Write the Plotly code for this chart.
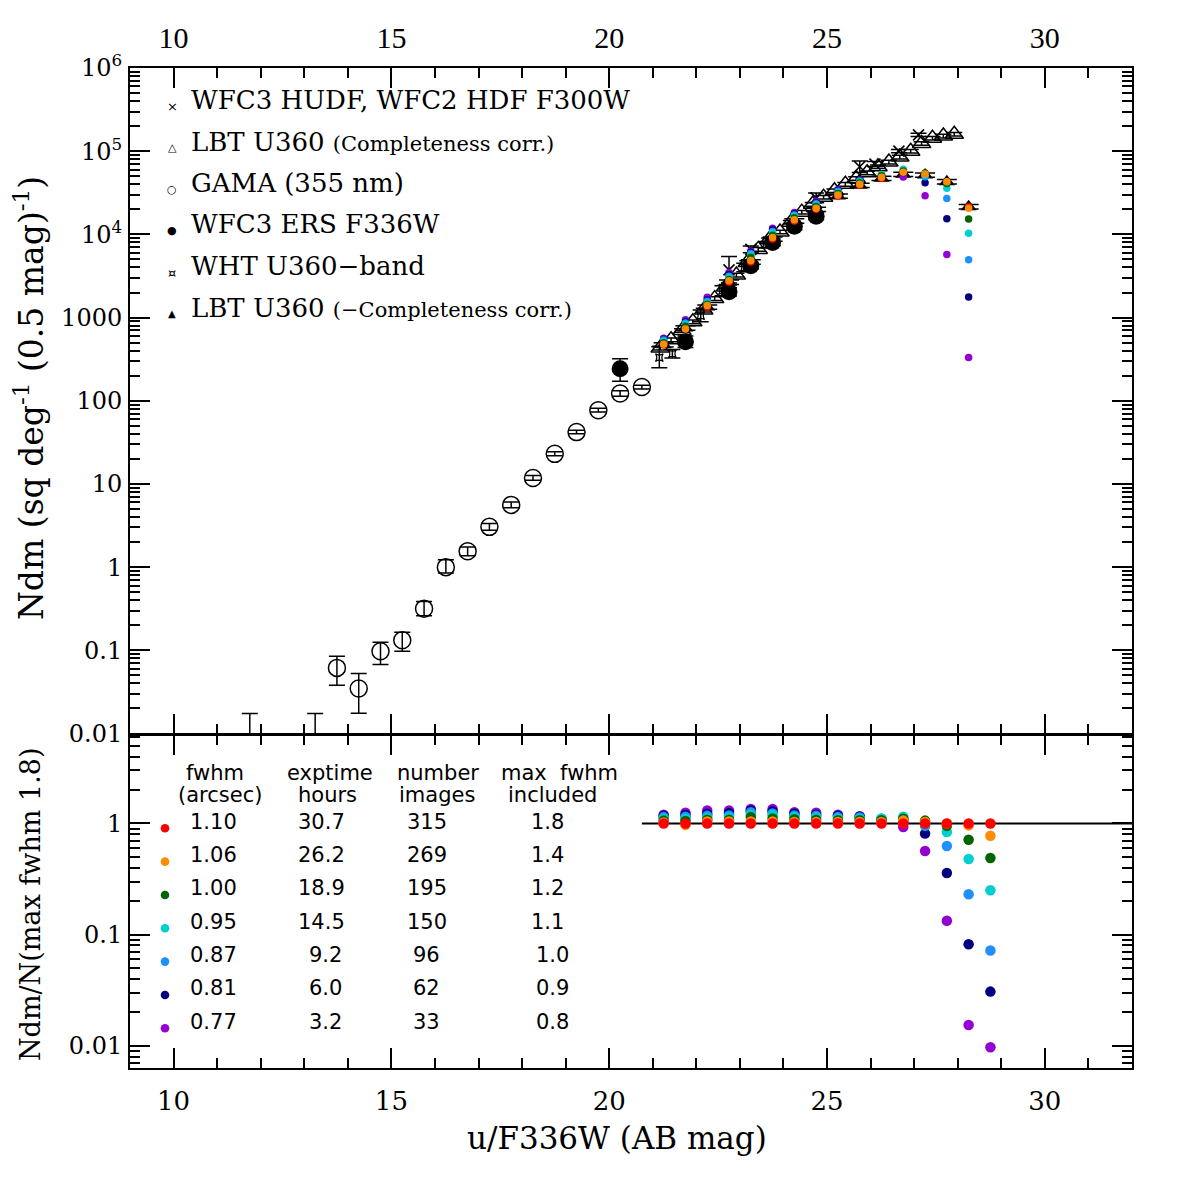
import plotly.graph_objects as go

# ---------------- data ----------------
# GAMA (355 nm) open circles
gama_mag = [13.75, 14.25, 14.75, 15.25, 15.75, 16.25, 16.75, 17.25, 17.75, 18.25, 18.75, 19.25, 19.75, 20.25, 20.75]
gama_n = [0.0615, 0.0347, 0.0975, 0.132, 0.317, 1.0, 1.55, 3.05, 5.6, 11.8, 23.0, 42.0, 77.0, 122.0, 146.0]
gama_err_hi = [0.0233, 0.0179, 0.0273, 0.033, 0.068, 0.23, 0.2, 0.3, 0.45, 0.8, 1.3, 2.2, 4.0, 10.0, 8.0]
gama_err_lo = [0.0235, 0.0172, 0.0301, 0.0345, 0.056, 0.15, 0.18, 0.28, 0.42, 0.75, 1.2, 2.0, 3.8, 9.0, 7.5]
# GAMA upper limits
gama_ul_mag = [11.75, 13.25]
gama_ul_n = [0.0174, 0.0174]
gama_ul_up = [0.0, 0.0]
gama_ul_down = [0.0166, 0.0166]

# WFC3 ERS F336W filled circles
ers_mag = [20.25, 21.75, 22.75, 23.25, 23.75, 24.25, 24.75]
ers_n = [242, 512, 2040, 4200, 8000, 12500, 16500]
ers_err_hi = [77, 88, 250, 400, 780, 1200, 1600]
ers_err_lo = [71, 75, 220, 370, 710, 1100, 1450]

# WFC3 HUDF / WFC2 HDF F300W crosses
hudf_mag = [22.75, 23.25, 24.75, 25.75, 26.1, 26.65, 27.1]
hudf_n = [3750, 6600, 27500, 65000, 70000, 100000, 157000]
hudf_err_hi = [1670, 640, 4000, 11400, 5000, 4700, 7400]
hudf_err_lo = [1155, 580, 3500, 9700, 4700, 4500, 7100]

# WHT U360-band
wht_mag = [21.15, 21.45, 22.1, 22.6, 23.1, 23.6]
wht_n = [330, 367, 1050, 2100, 4000, 7500]
wht_err_hi = [115, 45, 184, 310, 490, 720]
wht_err_lo = [80, 40, 157, 270, 435, 660]

# LBT U360 (completeness corrected) open triangles
lbt_corr_mag = [21.17, 21.42, 21.67, 21.92, 22.17, 22.42, 22.67, 22.92, 23.17, 23.42,
                23.67, 23.92, 24.17, 24.42, 24.67, 24.92, 25.17, 25.42, 25.67, 25.92,
                26.17, 26.42, 26.67, 26.92, 27.17, 27.42, 27.67, 27.92]
lbt_corr_n = [430, 540, 700, 890, 1230, 1690, 2330, 3240, 4600, 6600,
              8600, 10700, 14000, 18500, 23000, 28000, 33500, 40000, 47000, 55000,
              65000, 74000, 85000, 100000, 124000, 143000, 152000, 160000]

# LBT U360 (not completeness corrected) filled triangles
lbt_raw_mag = [21.25, 21.75, 22.25, 22.75, 23.25, 23.75, 24.25, 24.75, 25.25, 25.75, 26.25, 26.75, 27.25, 27.75, 28.25]
lbt_raw_n = [470, 750, 1340, 2660, 4660, 8800, 14500, 20000, 28900, 38900, 47200, 52700, 51700, 43000, 21500]
lbt_raw_err = [28, 45, 80, 160, 280, 530, 870, 1200, 1730, 2330, 2830, 3160, 3100, 2580, 1290]

# counts for the fwhm-selected subsets (upper panel)
sub_mag = [21.25, 21.75, 22.25, 22.75, 23.25, 23.75, 24.25, 24.75, 25.25, 25.75, 26.25, 26.75, 27.25, 27.75, 28.25]
n_fwhm_110 = [470, 750, 1340, 2660, 4660, 8800, 14500, 20000, 28900, 38900, 47200, 52700, 51700, 43000, 21500]
n_fwhm_106 = [479, 728, 1394, 2766, 4846, 9152, 14940, 20600, 29770, 40070, 48620, 55860, 53250, 43000, 20640]
n_fwhm_100 = [498, 788, 1447, 2873, 5312, 9768, 15810, 21600, 30920, 41620, 50500, 57970, 54800, 40850, 15350]
n_fwhm_095 = [517, 825, 1501, 3006, 5592, 10470, 16530, 22600, 32080, 42790, 52390, 60610, 51700, 35950, 10300]
n_fwhm_087 = [536, 863, 1568, 3139, 5872, 10820, 17110, 23400, 32950, 43960, 51920, 57970, 49120, 26920, 4967]
n_fwhm_081 = [550, 893, 1635, 3298, 6105, 11350, 17690, 24000, 33810, 44740, 51450, 55340, 41880, 15390, 1763]
n_fwhm_077 = [564, 938, 1755, 3485, 6290, 11880, 18270, 25000, 34680, 45120, 50980, 49010, 29210, 5720, 331]

# ratios to the max-fwhm-1.8 counts (lower panel)
ratio_mag = [21.25, 21.75, 22.25, 22.75, 23.25, 23.75, 24.25, 24.75, 25.25, 25.75, 26.25, 26.75, 27.25, 27.75, 28.25, 28.75]
r_fwhm_110 = [1, 1, 1, 1, 1, 1, 1, 1, 1, 1, 1, 1, 1, 1, 1, 1]
r_fwhm_106 = [1.02, 0.97, 1.04, 1.04, 1.04, 1.04, 1.03, 1.03, 1.03, 1.03, 1.03, 1.06, 1.03, 1.00, 0.96, 0.775]
r_fwhm_100 = [1.06, 1.05, 1.08, 1.08, 1.14, 1.11, 1.09, 1.08, 1.07, 1.07, 1.07, 1.10, 1.06, 0.95, 0.714, 0.489]
r_fwhm_095 = [1.10, 1.10, 1.12, 1.13, 1.20, 1.19, 1.14, 1.13, 1.11, 1.10, 1.11, 1.15, 1.00, 0.836, 0.479, 0.251]
r_fwhm_087 = [1.14, 1.15, 1.17, 1.18, 1.26, 1.23, 1.18, 1.17, 1.14, 1.13, 1.10, 1.10, 0.95, 0.626, 0.231, 0.072]
r_fwhm_081 = [1.17, 1.19, 1.22, 1.24, 1.31, 1.29, 1.22, 1.20, 1.17, 1.15, 1.09, 1.05, 0.81, 0.358, 0.082, 0.0307]
r_fwhm_077 = [1.20, 1.25, 1.31, 1.31, 1.35, 1.35, 1.26, 1.25, 1.20, 1.16, 1.08, 0.93, 0.565, 0.133, 0.0154, 0.0097]
ref_line_mag = [20.75, 32.0]
ref_line_ratio = [1.0, 1.0]

# table
fwhm_labels = ["1.10", "1.06", "1.00", "0.95", "0.87", "0.81", "0.77"]
exptime_labels = ["30.7", "26.2", "18.9", "14.5", "9.2", "6.0", "3.2"]
nimages_labels = ["315", "269", "195", "150", "96", "62", "33"]
maxfwhm_labels = ["1.8", "1.4", "1.2", "1.1", "1.0", "0.9", "0.8"]
fwhm_colors = ["#ff0000", "#ff8c00", "#006400", "#00ced1", "#1e90ff", "#000080", "#9400d3"]

x_tickvals = [10, 15, 20, 25, 30]
y_up_tickvals = [0.01, 0.1, 1, 10, 100, 1000, 1e4, 1e5, 1e6]
y_up_ticktext = ["0.01", "0.1", "1", "10", "100", "1000", "10<sup>4</sup>", "10<sup>5</sup>", "10<sup>6</sup>"]
y_lo_tickvals = [0.01, 0.1, 1]
y_lo_ticktext = ["0.01", "0.1", "1"]

# ---------------- figure ----------------
L, R, T, B = 130, 64, 68, 128
W = H = 1196
PW, PH = W - L - R, H - T - B


def P(px, py):
    return (px - L) / PW, (H - B - py) / PH


fig = go.Figure()
BLK = "black"


def ebar(hi, lo, width=8, thick=1.5):
    return dict(type="data", symmetric=False, array=hi, arrayminus=lo,
                color=BLK, thickness=thick, width=width)


# upper limits
fig.add_trace(go.Scatter(x=gama_ul_mag, y=gama_ul_n, mode="markers",
                         marker=dict(size=1, color="rgba(0,0,0,0)"),
                         error_y=ebar(gama_ul_up, gama_ul_down, width=8),
                         showlegend=False, xaxis="x", yaxis="y"))
# GAMA
fig.add_trace(go.Scatter(x=gama_mag, y=gama_n, mode="markers",
                         marker=dict(symbol="circle-open", size=17, color=BLK, line=dict(width=1.5)),
                         error_y=ebar(gama_err_hi, gama_err_lo, width=8),
                         showlegend=False, xaxis="x", yaxis="y"))
# WHT
fig.add_trace(go.Scatter(x=wht_mag, y=wht_n, mode="markers",
                         marker=dict(symbol="star-square-open", size=7, color=BLK, line=dict(width=1.2)),
                         error_y=ebar(wht_err_hi, wht_err_lo, width=8),
                         showlegend=False, xaxis="x", yaxis="y"))
# HUDF crosses
fig.add_trace(go.Scatter(x=hudf_mag, y=hudf_n, mode="markers",
                         marker=dict(symbol="x-thin-open", size=11, color=BLK, line=dict(width=1.6)),
                         error_y=ebar(hudf_err_hi, hudf_err_lo, width=8),
                         showlegend=False, xaxis="x", yaxis="y"))
# ERS filled circles
fig.add_trace(go.Scatter(x=ers_mag, y=ers_n, mode="markers",
                         marker=dict(symbol="circle", size=17, color=BLK),
                         error_y=ebar(ers_err_hi, ers_err_lo, width=8),
                         showlegend=False, xaxis="x", yaxis="y"))
# LBT completeness corrected
fig.add_trace(go.Scatter(x=lbt_corr_mag, y=lbt_corr_n, mode="markers",
                         marker=dict(symbol="triangle-up-open", size=16, color=BLK, line=dict(width=1.5)),
                         error_y=dict(type="percent", value=5, color=BLK, thickness=1.5, width=8),
                         showlegend=False, xaxis="x", yaxis="y"))
# LBT not corrected
fig.add_trace(go.Scatter(x=lbt_raw_mag, y=lbt_raw_n, mode="markers",
                         marker=dict(symbol="triangle-up", size=14, color=BLK),
                         error_y=dict(type="data", array=lbt_raw_err, color=BLK, thickness=1.5, width=10),
                         showlegend=False, xaxis="x", yaxis="y"))

upper_sets = [n_fwhm_110, n_fwhm_077, n_fwhm_081, n_fwhm_087, n_fwhm_095, n_fwhm_100, n_fwhm_106]
upper_cols = [fwhm_colors[0], fwhm_colors[6], fwhm_colors[5], fwhm_colors[4], fwhm_colors[3], fwhm_colors[2], fwhm_colors[1]]
for vals, col in zip(upper_sets, upper_cols):
    fig.add_trace(go.Scatter(x=sub_mag, y=vals, mode="markers",
                             marker=dict(symbol="circle", size=7.5, color=col),
                             showlegend=False, xaxis="x", yaxis="y"))

# lower panel
fig.add_trace(go.Scatter(x=ref_line_mag, y=ref_line_ratio, mode="lines",
                         line=dict(color=BLK, width=2), showlegend=False, xaxis="x2", yaxis="y2"))
lower_sets = [r_fwhm_077, r_fwhm_081, r_fwhm_087, r_fwhm_095, r_fwhm_100, r_fwhm_106, r_fwhm_110]
lower_cols = [fwhm_colors[6], fwhm_colors[5], fwhm_colors[4], fwhm_colors[3], fwhm_colors[2], fwhm_colors[1], fwhm_colors[0]]
for vals, col in zip(lower_sets, lower_cols):
    fig.add_trace(go.Scatter(x=ratio_mag, y=vals, mode="markers",
                             marker=dict(symbol="circle", size=10.5, color=col),
                             showlegend=False, xaxis="x2", yaxis="y2"))

TICKF = dict(family="DejaVu Serif", size=24, color=BLK)
common = dict(showline=True, linecolor=BLK, linewidth=2, mirror="ticks", ticks="inside",
              tickcolor=BLK, tickwidth=1.5, showgrid=False, zeroline=False)
xminor = dict(dtick=1, tick0=10, ticks="inside", ticklen=10, tickcolor=BLK, tickwidth=1.5, showgrid=False)
yminor = dict(dtick="D1", ticks="inside", ticklen=10, tickcolor=BLK, tickwidth=1.5, showgrid=False)

fig.update_layout(
    width=W, height=H, margin=dict(l=L, r=R, t=T, b=B),
    paper_bgcolor="white", plot_bgcolor="white", showlegend=False,
    xaxis=dict(**common, domain=[0, 1], anchor="y", range=[9, 32], tickmode="array", tickvals=x_tickvals,
               ticklen=20, minor=xminor, showticklabels=False),
    xaxis3=dict(overlaying="x", side="top", anchor="y", range=[9, 32], tickmode="array",
                tickvals=x_tickvals, ticks="", showline=False, showgrid=False, zeroline=False,
                tickfont=dict(family="Liberation Serif", size=30, color=BLK), ticklabelstandoff=13),
    yaxis=dict(**common, domain=[0.3345, 1], anchor="x", type="log", range=[-2, 6], tickmode="array",
               tickvals=y_up_tickvals, ticktext=y_up_ticktext, ticklen=20, minor=yminor,
               tickfont=TICKF, ticklabelstandoff=1),
    xaxis2=dict(**common, domain=[0, 1], anchor="y2", range=[9, 32], tickmode="array", tickvals=x_tickvals,
                ticklen=20, minor=xminor, tickfont=dict(family="DejaVu Serif", size=26, color=BLK),
                ticklabelstandoff=9),
    yaxis2=dict(**common, domain=[0, 0.3335], anchor="x2", type="log", range=[-2.2, 0.8], tickmode="array",
                tickvals=y_lo_tickvals, ticktext=y_lo_ticktext, ticklen=20, minor=yminor,
                tickfont=TICKF, ticklabelstandoff=1),
)
# dummy trace so xaxis3 shows
fig.add_trace(go.Scatter(x=[None], y=[None], xaxis="x3", yaxis="y", showlegend=False))

ann = []
# axis titles
x_, y_ = P(617, 1138)
ann.append(dict(text="u/F336W (AB mag)", x=x_, y=y_, xref="paper", yref="paper", showarrow=False,
                font=dict(family="DejaVu Serif", size=31, color=BLK), xanchor="center", yanchor="middle"))
x_, y_ = P(30, 398)
ann.append(dict(text="Ndm (sq deg<sup>-1</sup> (0.5 mag)<sup>-1</sup>)", x=x_, y=y_, xref="paper", yref="paper",
                showarrow=False, textangle=-90, font=dict(family="DejaVu Serif", size=33, color=BLK),
                xanchor="center", yanchor="middle"))
x_, y_ = P(30, 905)
ann.append(dict(text="Ndm/N(max fwhm 1.8)", x=x_, y=y_, xref="paper", yref="paper",
                showarrow=False, textangle=-90, font=dict(family="DejaVu Serif", size=27, color=BLK),
                xanchor="center", yanchor="middle"))

# legend of data sets
legend_texts = ["WFC3 HUDF, WFC2 HDF F300W",
                "LBT U360 <span style='font-size:21px'>(Completeness corr.)</span>",
                "GAMA (355 nm)",
                "WFC3 ERS F336W",
                "WHT U360\u2212band",
                "LBT U360 <span style='font-size:21px'>(\u2212Completeness corr.)</span>"]
legend_syms = ["\u00d7", "\u25b3", "\u25cb", "\u25cf", "\u00a4", "\u25b2"]
legend_symsize = [13, 11, 11, 11, 13, 10]
legend_rows = [100, 141.5, 183, 224.5, 266, 307.5]
for txt, sym, ss, py in zip(legend_texts, legend_syms, legend_symsize, legend_rows):
    x_, y_ = P(189, py)
    ann.append(dict(text=txt, x=x_, y=y_, xref="paper", yref="paper", showarrow=False,
                    font=dict(family="DejaVu Serif", size=26, color=BLK), xanchor="left", yanchor="middle"))
    x_, y_ = P(172, py + 6)
    ann.append(dict(text=sym, x=x_, y=y_, xref="paper", yref="paper", showarrow=False,
                    font=dict(family="DejaVu Sans", size=ss, color=BLK), xanchor="center", yanchor="middle"))

# table in lower panel
TF = dict(family="DejaVu Sans", size=21, color=BLK)
headers = [("fwhm", 215, 773), ("(arcsec)", 220, 795), ("exptime", 330, 773), ("hours", 327.5, 795),
           ("number", 438, 773), ("images", 437, 795), ("max  fwhm", 559, 773), ("included", 552.5, 795)]
for t, px, py in headers:
    x_, y_ = P(px, py)
    ann.append(dict(text=t, x=x_, y=y_, xref="paper", yref="paper", showarrow=False, font=TF,
                    xanchor="center", yanchor="middle"))
col_fwhm = [213.5] * 7
col_exp = [321.7, 321.7, 321.7, 321.7, 325.5, 325.5, 325.5]
col_num = [426.5] * 7
col_max = [547, 547, 547, 547, 552, 552, 552]
shapes = []
for k in range(7):
    py = 821.7 + 33.33 * k
    for lab, px in ((fwhm_labels[k], col_fwhm[k]), (exptime_labels[k], col_exp[k]),
                    (nimages_labels[k], col_num[k]), (maxfwhm_labels[k], col_max[k])):
        x_, y_ = P(px, py)
        ann.append(dict(text=lab, x=x_, y=y_, xref="paper", yref="paper", showarrow=False, font=TF,
                        xanchor="center", yanchor="middle"))
    cy = 828.3 + 33.33 * k
    x0, y0 = P(165 - 4.3, cy + 4.3)
    x1, y1 = P(165 + 4.3, cy - 4.3)
    shapes.append(dict(type="circle", xref="paper", yref="paper", x0=x0, x1=x1, y0=y0, y1=y1,
                       fillcolor=fwhm_colors[k], line=dict(width=0)))

fig.update_layout(annotations=ann, shapes=shapes)
fig.write_html("out.html")
